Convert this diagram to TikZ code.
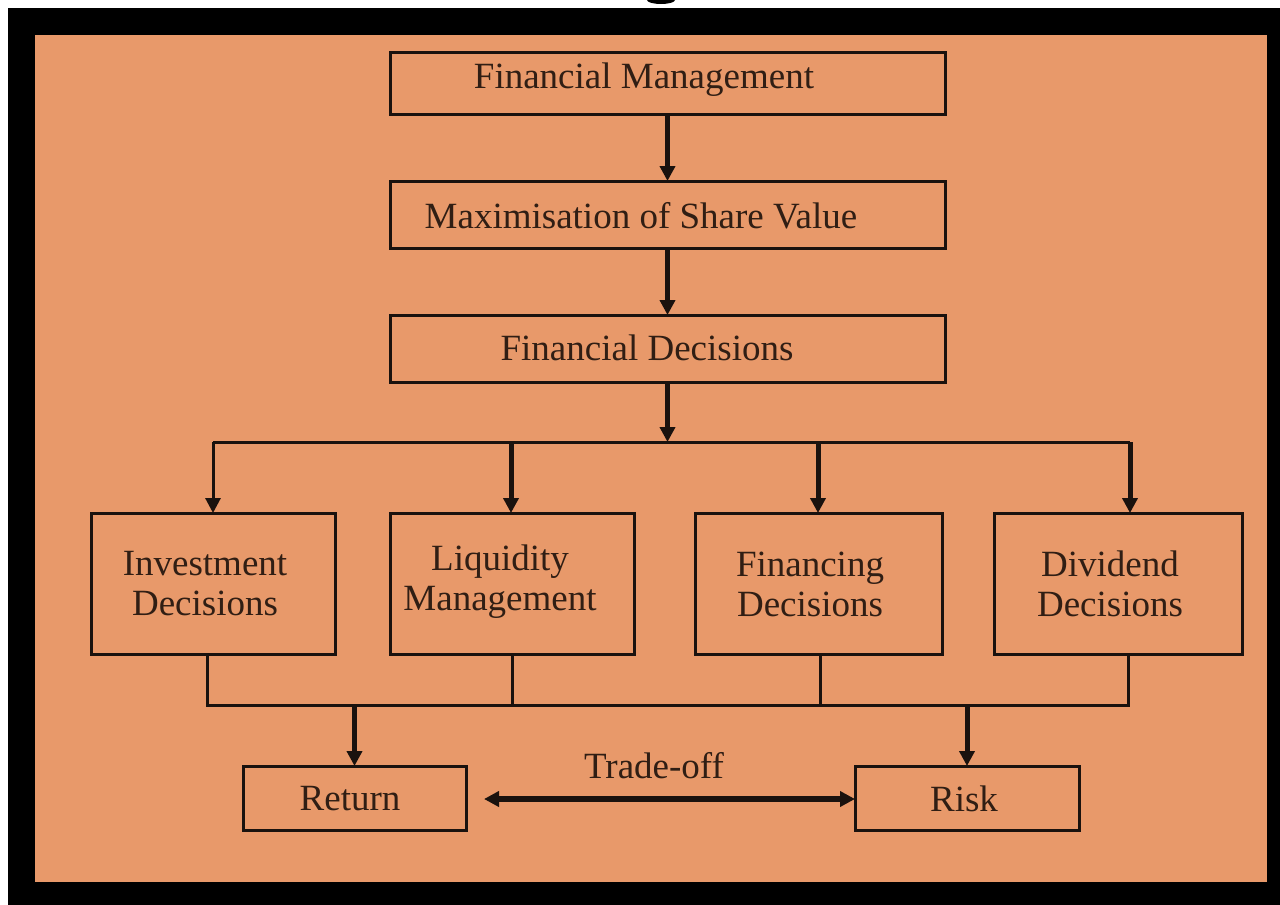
\documentclass[tikz,border=0pt]{standalone}
\usepackage{fontspec}
\setmainfont{Liberation Serif}
\usetikzlibrary{arrows.meta}
\definecolor{bgorange}{RGB}{232,153,106}
\definecolor{inkc}{RGB}{26,18,14}
\definecolor{textc}{RGB}{48,30,20}
\tikzset{
  boxnode/.style={draw=inkc, line width=3pt, minimum width=#1, inner sep=0pt, outer sep=0pt},
  txt/.style={text=textc, font=\fontsize{37}{40}\selectfont, align=center, inner sep=0pt},
  thinlink/.style={draw=inkc, line width=3pt},
  thicklink/.style={draw=inkc, line width=5pt},
  tip/.style={-{Triangle[length=15pt,width=15pt]}},
  dtip/.style={{Triangle[length=15pt,width=15pt]}-{Triangle[length=15pt,width=15pt]}}
}
\begin{document}
\begin{tikzpicture}[x=1pt,y=-1pt]
\useasboundingbox (0,0) rectangle (1280,905);
\fill[white] (0,0) rectangle (1280,905);
\fill[black] (8,8) rectangle (1280,905);
\fill[black] (661,0) ellipse (14 and 4);
\fill[bgorange] (35,35) rectangle (1267,882);

% boxes
\node[boxnode=555pt, minimum height=62pt] (fm) at (667.5,83) {};
\node[boxnode=555pt, minimum height=67pt] (msv) at (667.5,214.5) {};
\node[boxnode=555pt, minimum height=67pt] (fd) at (667.5,348.5) {};
\node[boxnode=244pt, minimum height=141pt] (inv) at (213,583.5) {};
\node[boxnode=244pt, minimum height=141pt] (liq) at (512,583.5) {};
\node[boxnode=247pt, minimum height=141pt] (fin) at (818.5,583.5) {};
\node[boxnode=248pt, minimum height=141pt] (div) at (1118,583.5) {};
\node[boxnode=223pt, minimum height=64pt] (ret) at (354.5,798) {};
\node[boxnode=224pt, minimum height=64pt] (risk) at (967,798) {};

% texts
\node[txt] (tfm) at (644,80) {Financial Management};
\node[txt] (tmsv) at (641,216) {Maximisation of Share Value};
\node[txt] (tfd) at (647,348) {Financial Decisions};
\node[txt] (tinv) at (205,584) {Investment\\Decisions};
\node[txt] (tliq) at (500,582) {Liquidity\\Management};
\node[txt] (tfin) at (810,584) {Financing\\Decisions};
\node[txt] (tdiv) at (1110,584) {Dividend\\Decisions};
\node[txt] (tret) at (350,799) {Return};
\node[txt] (trisk) at (964,799) {Risk};
\node[txt] (ttrade) at (654,766) {Trade-off};

% top chain
\draw[thicklink, tip] (fm.south) -- (msv.north);
\draw[thicklink, tip] (msv.south) -- (fd.north);
\coordinate (bus) at (667.5,442);
\draw[thicklink, tip] (fd.south) -- (bus);

% distribution bus
\coordinate (b1) at (213,442);
\coordinate (b2) at (511,442);
\coordinate (b3) at (818,442);
\coordinate (b4) at (1130,442);
\draw[thinlink] (b1) -- (b4);
\draw[thinlink, tip] (b1) -- (inv.north);
\draw[thicklink, tip] (b2) -- (b2 |- liq.north);
\draw[thicklink, tip] (b3) -- (b3 |- fin.north);
\draw[thicklink, tip] (b4) -- (b4 |- div.north);

% collection bus
\coordinate (c1) at (207,705);
\coordinate (c2) at (512,705);
\coordinate (c3) at (820,705);
\coordinate (c4) at (1128,705);
\draw[thinlink] (c1 |- inv.south) -- (c1) -- (c4) -- (c4 |- div.south);
\draw[thinlink] (c2 |- liq.south) -- (c2);
\draw[thinlink] (c3 |- fin.south) -- (c3);
\coordinate (r1) at (354.5,705);
\coordinate (r2) at (967,705);
\draw[thicklink, tip] (r1) -- (ret.north);
\draw[thicklink, tip] (r2) -- (risk.north);

% trade-off
\coordinate (tl) at (484,799);
\draw[draw=inkc, line width=6pt, dtip] (tl) -- (risk.west |- tl);
\end{tikzpicture}
\end{document}
